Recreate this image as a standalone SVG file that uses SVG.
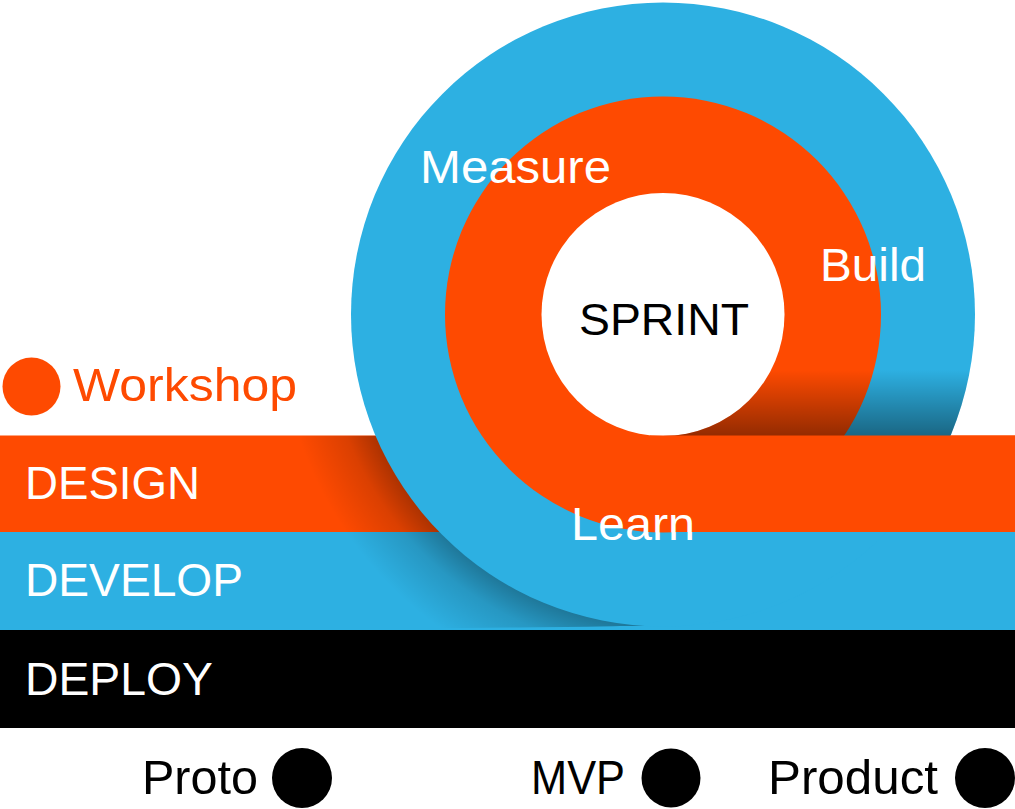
<svg xmlns="http://www.w3.org/2000/svg" width="1015" height="809" viewBox="0 0 1015 809">
<style>
.t{font-family:"Liberation Sans",Arial,sans-serif;}
.w{fill:#ffffff;}
.k{fill:#000000;}
.o{fill:#FE4A01;}
.b{fill:#2DB0E2;}
</style>
<defs>
<radialGradient id="lsh" gradientUnits="userSpaceOnUse" cx="663" cy="314.5" r="385">
<stop offset="0" stop-color="#000" stop-opacity="0.32"/>
<stop offset="0.81" stop-color="#000" stop-opacity="0.32"/>
<stop offset="0.88" stop-color="#000" stop-opacity="0.14"/>
<stop offset="1" stop-color="#000" stop-opacity="0"/>
</radialGradient>
<linearGradient id="rsh" gradientUnits="userSpaceOnUse" x1="0" y1="370" x2="0" y2="436">
<stop offset="0" stop-color="#000" stop-opacity="0"/>
<stop offset="1" stop-color="#000" stop-opacity="0.42"/>
</linearGradient>
<clipPath id="lclip"><path d="M0,435.5 H663 V626 H620 Q560,628 0,630 Z"/></clipPath>
<clipPath id="rclip"><rect x="663" y="360" width="352" height="76"/></clipPath>
</defs>

<g id="bands">
<rect id="design-band" class="o" x="0" y="435.5" width="1015" height="96.5"/>
<rect id="develop-band" class="b" x="0" y="532" width="1015" height="98"/>
<rect id="deploy-band" class="k" x="0" y="630" width="1015" height="98"/>
<rect x="0" y="435.5" width="663" height="194.5" fill="url(#lsh)" clip-path="url(#lclip)"/>
</g>

<g id="rings">
<circle id="outer-ring" class="b" cx="663" cy="314.5" r="312"/>
<circle id="inner-ring" class="o" cx="663" cy="314.5" r="218"/>
<circle id="sprint-core" fill="#ffffff" cx="663" cy="314.5" r="121.5"/>
<path clip-path="url(#rclip)" fill="url(#rsh)" fill-rule="evenodd" d="M351,314.5 a312,312 0 1,0 624,0 a312,312 0 1,0 -624,0 Z M541.5,314.5 a121.5,121.5 0 1,0 243,0 a121.5,121.5 0 1,0 -243,0 Z"/>
<rect id="design-band-front" class="o" x="650" y="435.5" width="365" height="96.5"/>
</g>

<g id="labels" class="t">
<text class="w" x="420" y="183" font-size="46" textLength="191" lengthAdjust="spacingAndGlyphs">Measure</text>
<text class="w" x="820" y="281" font-size="47" textLength="106" lengthAdjust="spacingAndGlyphs">Build</text>
<text class="k" x="579" y="335" font-size="45" textLength="170" lengthAdjust="spacingAndGlyphs">SPRINT</text>
<text class="w" x="571" y="540" font-size="46" textLength="124" lengthAdjust="spacingAndGlyphs">Learn</text>
<text class="w" x="25" y="499" font-size="46" textLength="175" lengthAdjust="spacingAndGlyphs">DESIGN</text>
<text class="w" x="25" y="596" font-size="46" textLength="218" lengthAdjust="spacingAndGlyphs">DEVELOP</text>
<text class="w" x="25" y="695" font-size="46" textLength="188" lengthAdjust="spacingAndGlyphs">DEPLOY</text>
</g>

<g id="workshop">
<circle class="o" cx="31.5" cy="386.5" r="29"/>
<text class="t o" x="73" y="401" font-size="47" textLength="224" lengthAdjust="spacingAndGlyphs">Workshop</text>
</g>

<g id="proto">
<text class="t k" x="142" y="794" font-size="48" textLength="116" lengthAdjust="spacingAndGlyphs">Proto</text>
<circle class="k" cx="302" cy="778" r="30"/>
</g>
<g id="mvp">
<text class="t k" x="531" y="794" font-size="48" textLength="94" lengthAdjust="spacingAndGlyphs">MVP</text>
<circle class="k" cx="671" cy="778" r="29.5"/>
</g>
<g id="product">
<text class="t k" x="768" y="794" font-size="48" textLength="170" lengthAdjust="spacingAndGlyphs">Product</text>
<circle class="k" cx="985" cy="778" r="30"/>
</g>
<g id="connectors"/>
</svg>
